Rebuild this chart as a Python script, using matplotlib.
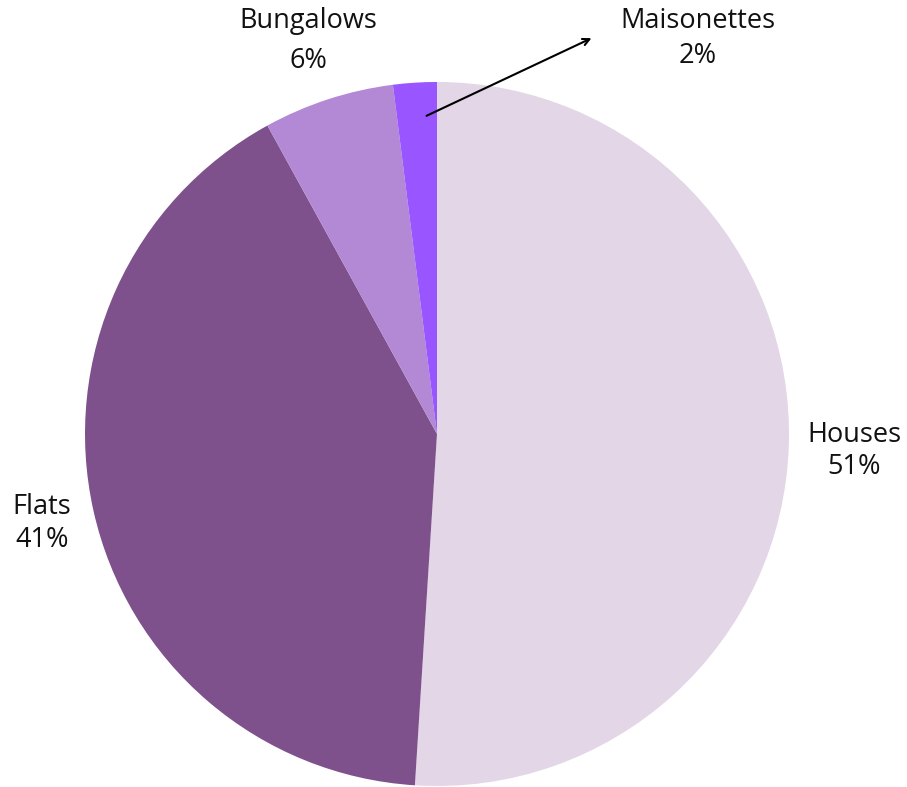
import matplotlib
matplotlib.use("Agg")
import matplotlib.pyplot as plt

categories = ["Houses", "Flats", "Bungalows", "Maisonettes"]
values = [51, 41, 6, 2]
pct_labels = ["51%", "41%", "6%", "2%"]
colors = ["#E2D6E7", "#7F518C", "#B388D4", "#9955FF"]

W, H = 907, 787
fig = plt.figure(figsize=(W / 100, H / 100), dpi=100)
ax = fig.add_axes([0, 0, 1, 1])

cx, cy, r = 437, H - 434, 352
ax.pie(values, colors=colors, startangle=90, counterclock=False,
       center=(cx, cy), radius=r, frame=True,
       wedgeprops=dict(linewidth=0))
ax.set_xlim(0, W)
ax.set_ylim(0, H)
ax.set_aspect("equal")
ax.axis("off")

font = dict(family="Open Sans", fontsize=19.5, color="#111111", ha="center", va="baseline")
# label positions in pixel coords (x, baseline of first line, baseline of second line)
pos = {
    "Houses": (854, 442, 474),
    "Flats": (42, 514, 547),
    "Bungalows": (308, 28, 68),
    "Maisonettes": (698, 28, 63),
}
for cat, p in zip(categories, pct_labels):
    x, y1, y2 = pos[cat]
    ax.text(x, H - y1, cat, **font)
    ax.text(x, H - y2, p, **font)

ax.annotate("", xy=(594, H - 37), xytext=(424, H - 117),
            arrowprops=dict(arrowstyle="->", color="black", lw=1.5, mutation_scale=12))

fig.savefig("out.png", dpi=100)
